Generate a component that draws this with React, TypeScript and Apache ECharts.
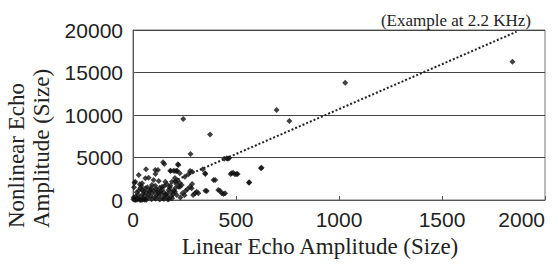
import React, { useEffect, useRef } from "react";
import * as echarts from "echarts";

const xTicks = [0, 500, 1000, 1500, 2000];
const yTicks = [0, 5000, 10000, 15000, 20000];
const xTitle = "Linear Echo Amplitude (Size)";
const yTitleLines = ["Nonlinear Echo", "Amplitude (Size)"];
const note = "(Example at 2.2 KHz)";

// sparse / outlying points (linear, nonlinear)
const sparsePoints: number[][] = [
  [1842, 16260], [1030, 13800], [697, 10590], [759, 9290], [244, 9530], [374, 7720],
  [279, 5410], [624, 3800], [564, 2080], [443, 4860], [460, 4860], [474, 3060],
  [503, 3060], [486, 3210], [391, 2350], [399, 2350], [351, 3060], [339, 3610],
  [351, 1100], [422, 1100], [439, 710], [292, 590], [301, 790], [287, 1880],
  [146, 4430], [152, 4230], [218, 4200], [63, 3610], [109, 3060], [227, 3140],
  [183, 3410], [204, 3410], [287, 3330], [7, 2030], [33, 1850],
  [455, 4900], [466, 4900], [479, 3140], [495, 3020], [508, 3060], [621, 3730],
  [563, 2030], [447, 790],
];

// mid cluster
const clusterPoints: number[][] = [
  [108, 3530], [121, 3530], [181, 3450], [197, 3450], [214, 3450], [28, 2940],
  [60, 2550], [76, 2620], [100, 2350], [125, 2230], [157, 2150], [189, 2150],
  [205, 2230], [11, 2150], [44, 1960], [92, 1760], [108, 1680], [141, 1560],
  [165, 1850], [181, 1680], [222, 1560], [35, 1370], [60, 1370], [84, 1180],
  [117, 1060], [133, 980], [173, 1180], [189, 980], [205, 1370],
  [220, 4120], [212, 3410], [277, 3410], [350, 3140], [252, 2740], [269, 3020],
  [204, 2590], [215, 2300], [228, 2000], [236, 1760], [210, 1900], [228, 1560],
  [277, 1560], [285, 1370], [309, 980], [317, 790], [358, 1060], [414, 1180],
  [431, 790], [212, 590], [204, 980],
];

// dense blob near origin
const densePoints: number[][] = [
  [2, 50], [8, 120], [15, 30], [22, 200], [30, 80], [40, 20], [50, 150], [60, 60],
  [70, 300], [12, 400], [25, 600], [38, 350], [48, 700], [55, 500], [65, 900],
  [75, 650], [85, 400], [95, 800], [105, 300], [115, 600], [125, 450], [135, 750],
  [145, 250], [155, 550], [165, 350], [175, 150], [185, 450], [195, 700], [80, 1000],
  [100, 1100], [120, 850], [140, 1250], [150, 900], [160, 650], [170, 800], [90, 100],
  [110, 150], [130, 60], [150, 120], [170, 50], [190, 200], [18, 900], [28, 1100],
  [45, 1200], [70, 1500], [88, 1400], [112, 1300], [130, 1450], [152, 1650],
  [178, 1450], [198, 1100], [240, 800], [255, 1050], [265, 1300], [250, 550],
  [230, 300], [5, 1500], [40, 1650], [3, 300], [52, 1000], [10, 10], [20, 60],
  [35, 10], [45, 40], [55, 15], [65, 30],
];

// dotted trend line end points
const trendLine: number[][] = [
  [200, 2240],
  [1862, 19800],
];

export default function App() {
  const ref = useRef<HTMLDivElement>(null);
  useEffect(() => {
    if (!ref.current) return;
    const chart = echarts.init(ref.current, undefined, { renderer: "svg" });
    const numFont = "'Liberation Sans Narrow', 'Arial Narrow', 'Liberation Sans', Arial, sans-serif";
    const serif = "'Liberation Serif', 'Times New Roman', serif";
    const plain = (v: number) => String(v);
    chart.setOption({
      animation: false,
      backgroundColor: "#ffffff",
      title: {
        text: note,
        right: 22,
        top: 7,
        textStyle: { fontFamily: serif, fontSize: 17, fontWeight: "normal", color: "#222" },
      },
      grid: {
        left: 133,
        right: 13,
        top: 30,
        bottom: 64,
        show: true,
        borderColor: "#777",
        borderWidth: 1,
        outerBoundsMode: "none",
        containLabel: false,
      },
      xAxis: {
        type: "value",
        min: xTicks[0],
        max: xTicks[xTicks.length - 1],
        interval: 500,
        name: xTitle,
        nameLocation: "middle",
        nameGap: 33,
        nameTextStyle: { fontFamily: serif, fontSize: 23, color: "#222", padding: [0, 38, 0, 0] },
        axisLine: { show: true, lineStyle: { color: "#555", width: 1 } },
        axisTick: { show: true, inside: true, length: 4, lineStyle: { color: "#555" } },
        axisLabel: {
          fontFamily: numFont,
          fontSize: 21,
          color: "#222",
          margin: 9,
          alignMaxLabel: "right",
          formatter: plain,
        },
        splitLine: { show: false },
      },
      yAxis: {
        type: "value",
        min: yTicks[0],
        max: yTicks[yTicks.length - 1],
        interval: 5000,
        axisLine: { show: true, lineStyle: { color: "#555", width: 1 } },
        axisTick: { show: true, inside: true, length: 3, lineStyle: { color: "#555" } },
        axisLabel: {
          fontFamily: numFont,
          fontSize: 21,
          color: "#222",
          margin: 10,
          padding: [12, 0, 0, 0],
          formatter: plain,
        },
        splitLine: { show: true, lineStyle: { color: "#444", width: 1 } },
      },
      graphic: yTitleLines.map((t, i) => ({
        type: "text",
        x: 16 + i * 25,
        y: 228,
        rotation: Math.PI / 2,
        style: {
          text: t,
          fontFamily: serif,
          fontSize: 23,
          fill: "#222",
          textAlign: "left",
          textVerticalAlign: "middle",
        },
      })),
      series: [
        {
          type: "scatter",
          data: [...densePoints, ...clusterPoints, ...sparsePoints],
          symbol: "diamond",
          symbolSize: 6,
          itemStyle: { color: "#111" },
        },
        {
          type: "line",
          data: trendLine,
          symbol: "none",
          lineStyle: { type: [2, 2], width: 2, color: "#222" },
        },
      ],
    });
    return () => chart.dispose();
  }, []);
  return (
    <div
      ref={ref}
      style={{ position: "absolute", left: 0, top: 0, width: 558, height: 264 }}
    />
  );
}
